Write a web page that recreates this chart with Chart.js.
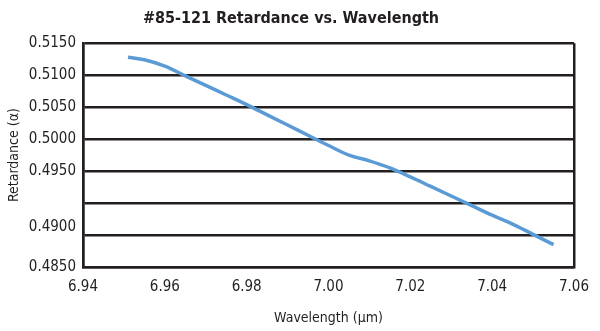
<!DOCTYPE html>
<html>
<head>
<meta charset="utf-8">
<title>#85-121 Retardance vs. Wavelength</title>
<script src="https://cdn.jsdelivr.net/npm/chart.js@4.4.1/dist/chart.umd.min.js"></script>
<style>
  body { margin: 0; background: #fff; }
  #chart { display: block; }
</style>
</head>
<body>
<canvas id="chart" width="600" height="331"></canvas>
<script>
// wavelength in µm
const wavelengths = [6.951, 6.955, 6.960, 6.965, 6.970, 6.975, 6.980, 6.985, 6.990, 6.995,
  7.000, 7.005, 7.010, 7.015, 7.020, 7.025, 7.030, 7.035, 7.040, 7.045, 7.050, 7.055];
// retardance in waves
const retardance = [0.5128, 0.5124, 0.5114, 0.5099, 0.5084, 0.5069, 0.5054, 0.5038, 0.5022, 0.5006,
  0.4990, 0.4975, 0.4966, 0.4955, 0.4941, 0.4926, 0.4911, 0.4896, 0.4881, 0.4867, 0.4851, 0.4835];

// printed labels for the horizontal rules, top to bottom (one rule has none)
const yTickLabels = ["0.5150", "0.5100", "0.5050", "0.5000", "0.4950", "", "0.4900", "0.4850"];
const xTicks = [6.94, 6.96, 6.98, 7.00, 7.02, 7.04, 7.06];

const FONT = "'Liberation Sans Narrow', 'DejaVu Sans Condensed', 'Arial Narrow', sans-serif";
const INK = "#231f20";

new Chart(document.getElementById("chart"), {
  type: "line",
  data: {
    datasets: [{
      data: wavelengths.map((w, i) => ({ x: w, y: retardance[i] })),
      borderColor: "#5b9bd5",
      borderWidth: 3.5,
      pointRadius: 0,
      cubicInterpolationMode: "monotone",
      fill: false
    }]
  },
  options: {
    responsive: false,
    animation: false,
    devicePixelRatio: 1,
    layout: { padding: { left: 0, right: 18, top: 0, bottom: 0 } },
    plugins: {
      legend: { display: false },
      tooltip: { enabled: false },
      title: {
        display: true,
        text: "#85-121 Retardance vs. Wavelength",
        color: INK,
        font: { family: FONT, size: 16, weight: "bold", lineHeight: 1.2 },
        padding: { top: 9, bottom: 15 }
      }
    },
    scales: {
      x: {
        type: "linear",
        min: xTicks[0],
        max: xTicks[xTicks.length - 1],
        afterBuildTicks: (scale) => { scale.ticks = xTicks.map(v => ({ value: v })); },
        afterFit: (scale) => { scale.height = 64; },
        grid: {
          drawTicks: false,
          lineWidth: 2.5,
          // only the two outer verticals are drawn, closing the frame
          color: (ctx) => (ctx.index === 0 || ctx.index === xTicks.length - 1) ? INK : "rgba(0,0,0,0)"
        },
        border: { display: true, color: INK, width: 2.5 },
        ticks: {
          color: INK,
          padding: 11,
          autoSkip: false,
          maxRotation: 0,
          font: { family: FONT, size: 15 },
          callback: (v) => Number(v).toFixed(2)
        },
        title: {
          display: true,
          text: "Wavelength (µm)",
          color: INK,
          font: { family: FONT, size: 14 },
          padding: { top: 0, bottom: 4 }
        }
      },
      y: {
        type: "linear",
        min: 0.4800,
        max: 0.5150,
        afterBuildTicks: (scale) => {
          const t = [];
          for (let i = 0; i < yTickLabels.length; i++) t.push({ value: 0.5150 - i * 0.005 });
          scale.ticks = t.reverse();
        },
        afterFit: (scale) => { scale.width = 83; },
        grid: { drawTicks: false, color: INK, lineWidth: 2.5 },
        border: { display: true, color: INK, width: 2.5 },
        ticks: {
          color: INK,
          padding: 7,
          autoSkip: false,
          font: { family: FONT, size: 15, lineHeight: 1.0 },
          callback: (v, i, ticks) => {
            const label = yTickLabels[ticks.length - 1 - i];
            // "0.4900" is printed a little above its rule: pad with an empty second line
            return label === "0.4900" ? [label, ""] : label;
          }
        },
        title: {
          display: true,
          text: "Retardance (α)",
          color: INK,
          font: { family: FONT, size: 14 },
          padding: { top: 6, bottom: 0 }
        }
      }
    }
  }
});
</script>
</body>
</html>
